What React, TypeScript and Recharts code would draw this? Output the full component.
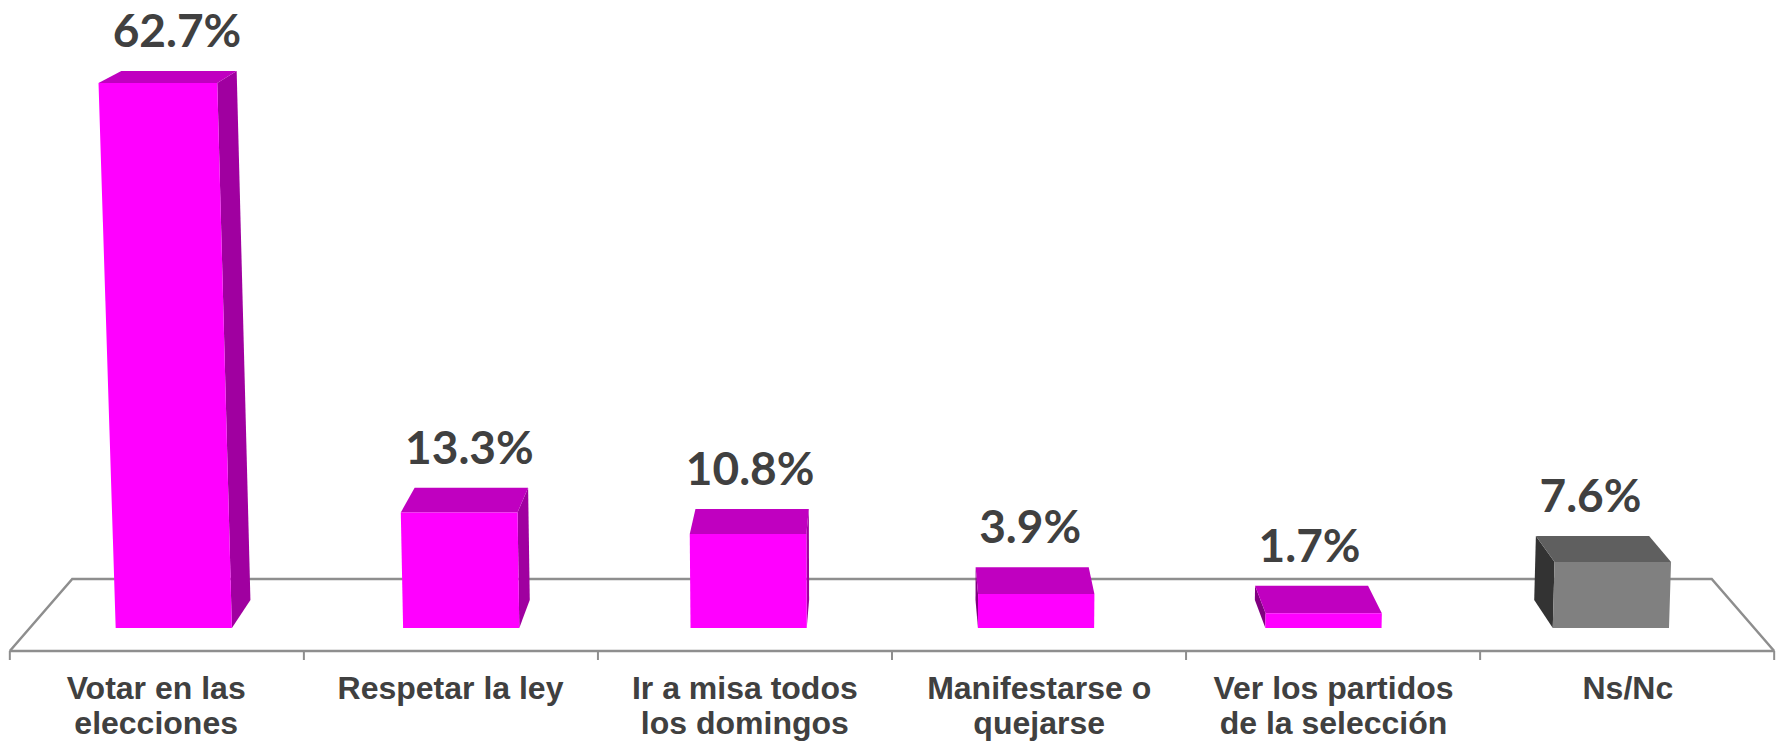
import React from 'react';
import { BarChart, Bar, XAxis, YAxis } from 'recharts';

// ---------- data ----------
const categories = [
  'Votar en las\nelecciones',
  'Respetar la ley',
  'Ir a misa todos\nlos domingos',
  'Manifestarse o\nquejarse',
  'Ver los partidos\nde la selección',
  'Ns/Nc',
];
const values = [62.7, 13.3, 10.8, 3.9, 1.7, 7.6];
const palettes = ['pink', 'pink', 'pink', 'pink', 'pink', 'gray'];
const yDomain = [0, 70];

const data = categories.map((name, i) => ({ name, value: values[i], palette: palettes[i] }));

// ---------- styling / layout ----------
const W = 1781;
const H = 742;
const M = { top: 28, right: 6, left: 9, bottom: 0 };
const AXIS_H = 91;
const BASE = H - M.bottom - AXIS_H; // floor front line (plot bottom)
const PL = M.left;
const PR = W - M.right;

const COLORS: Record<string, { front: string; top: string; right: string; left: string }> = {
  pink: { front: '#FF00FF', top: '#C000C0', right: '#A000A0', left: '#800080' },
  gray: { front: '#808080', top: '#5F5F5F', right: '#5A5A5A', left: '#333333' },
};
const TEXT = '#404040';
const FLOOR = '#8E8E8E';

// perspective (one-point, slight downward tilt)
const VX = (PL + PR) / 2;
const VY = -329;
const S_FRONT = 0.9765; // bar front plane
const S_BACK_BAR = 0.948; // bar back plane
const S_FLOOR_BACK = 0.9265;
const K = 4.06e-5;
const YREF = 628;

const proj = (X: number, h: number, s: number): [number, number] => {
  const sy = VY + (BASE - h - VY) * s;
  const sx = VX + (X - VX) * s * (1 + K * (YREF - sy));
  return [sx, sy];
};
const pts = (arr: [number, number][]) => arr.map((p) => `${p[0].toFixed(2)},${p[1].toFixed(2)}`).join(' ');

const Bar3D = (props: any) => {
  const { x, y, width, height, payload } = props;
  const c = COLORS[payload.palette];
  const X0 = x;
  const X1 = x + width;
  const hb = BASE - (y + height);
  const ht = BASE - y;
  const fTL = proj(X0, ht, S_FRONT), fTR = proj(X1, ht, S_FRONT);
  const fBL = proj(X0, hb, S_FRONT), fBR = proj(X1, hb, S_FRONT);
  const bTL = proj(X0, ht, S_BACK_BAR), bTR = proj(X1, ht, S_BACK_BAR);
  const bBL = proj(X0, hb, S_BACK_BAR), bBR = proj(X1, hb, S_BACK_BAR);
  const lab = proj((X0 + X1) / 2, ht, S_BACK_BAR);
  return (
    <g>
      {bTR[0] > fTR[0] && <polygon points={pts([fTR, bTR, bBR, fBR])} fill={c.right} />}
      {bTL[0] < fTL[0] && <polygon points={pts([fTL, bTL, bBL, fBL])} fill={c.left} />}
      <polygon points={pts([fTL, fTR, bTR, bTL])} fill={c.top} />
      <polygon points={pts([fTL, fTR, fBR, fBL])} fill={c.front} />
      <text
        x={lab[0] - 2}
        y={lab[1] - 24}
        textAnchor="middle"
        fontFamily="Lato, 'Open Sans', sans-serif"
        fontWeight={700}
        fontSize={46}
        fill={TEXT}
      >
        {payload.value.toFixed(1)}%
      </text>
    </g>
  );
};

const CatTick = (props: any) => {
  const { x, y, payload } = props;
  const lines = String(payload.value).split('\n');
  return (
    <g>
      {lines.map((ln, i) => (
        <text
          key={i}
          x={x}
          y={y + 48 + i * 35}
          textAnchor="middle"
          fontFamily="'Liberation Sans', Arial, sans-serif"
          fontWeight={700}
          fontSize={32}
          fill={TEXT}
        >
          {ln}
        </text>
      ))}
    </g>
  );
};

const Floor = () => {
  const fl = proj(PL, 0, 1), fr = proj(PR, 0, 1);
  const bl = proj(PL, 0, S_FLOOR_BACK), br = proj(PR, 0, S_FLOOR_BACK);
  const band = (PR - PL) / categories.length;
  const ticks = Array.from({ length: categories.length + 1 }, (_, i) => proj(PL + i * band, 0, 1));
  return (
    <svg width={W} height={H} style={{ position: 'absolute', left: 0, top: 0 }}>
      <polyline points={pts([fl, bl, br, fr])} fill="none" stroke={FLOOR} strokeWidth={2.5} strokeLinejoin="miter" />
      <line x1={fl[0]} y1={fl[1]} x2={fr[0]} y2={fr[1]} stroke={FLOOR} strokeWidth={2.5} />
      {ticks.map((t, i) => (
        <line key={i} x1={t[0]} y1={t[1]} x2={t[0]} y2={t[1] + 9} stroke={FLOOR} strokeWidth={2} />
      ))}
    </svg>
  );
};

export default function App() {
  return (
    <div style={{ position: 'absolute', left: 0, top: 0, width: W, height: H, background: '#fff' }}>
      <Floor />
      <div style={{ position: 'absolute', left: 0, top: 0 }}>
        <BarChart width={W} height={H} data={data} margin={M} barSize={119} style={{ overflow: 'visible' }}>
          <XAxis
            dataKey="name"
            axisLine={false}
            tickLine={false}
            tickSize={0}
            tickMargin={0}
            height={AXIS_H}
            interval={0}
            tick={<CatTick />}
          />
          <YAxis hide domain={yDomain} />
          <Bar dataKey="value" isAnimationActive={false} shape={(p: any) => <Bar3D {...p} />} />
        </BarChart>
      </div>
    </div>
  );
}
